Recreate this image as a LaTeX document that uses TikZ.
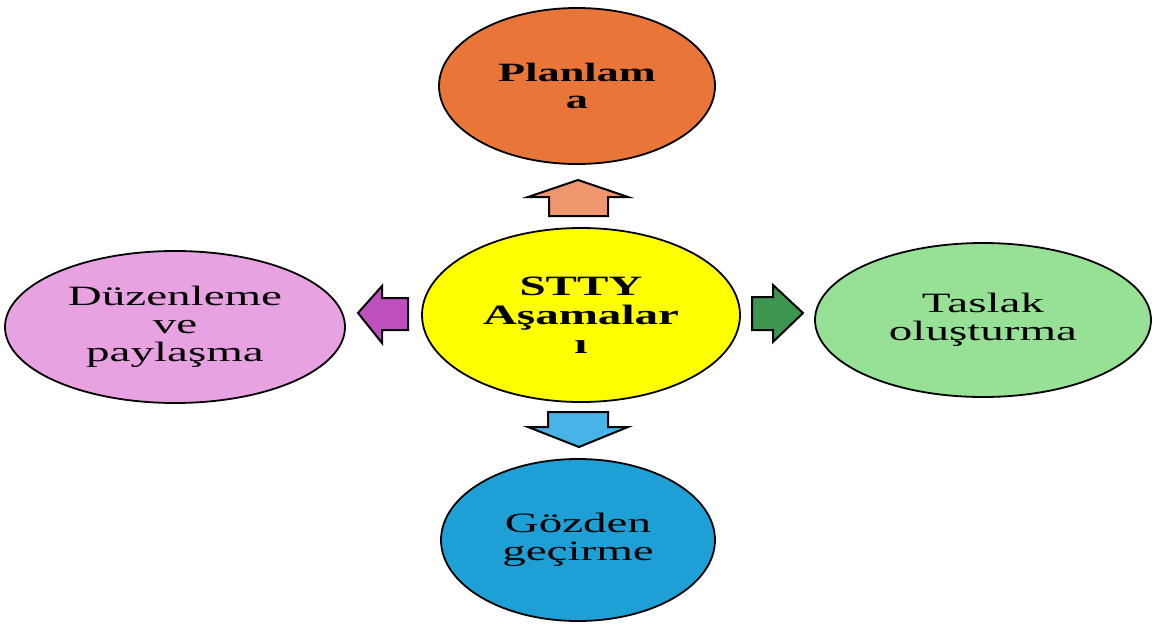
\documentclass[tikz,border=0pt]{standalone}
\usepackage{fontspec}
\setmainfont[FakeStretch=1.68]{Liberation Serif}
\usetikzlibrary{shapes.geometric}

\definecolor{planFill}{RGB}{233,118,56}
\definecolor{centerFill}{RGB}{255,255,0}
\definecolor{draftFill}{RGB}{150,225,150}
\definecolor{reviewFill}{RGB}{30,160,215}
\definecolor{editFill}{RGB}{232,162,226}
\definecolor{planArrow}{RGB}{240,150,110}
\definecolor{draftArrow}{RGB}{60,150,80}
\definecolor{reviewArrow}{RGB}{70,180,230}
\definecolor{editArrow}{RGB}{190,80,190}

\tikzset{
  stage/.style={draw=black,line width=0.9pt,ellipse,inner sep=0pt,align=center,
    font=\fontsize{14}{14}\selectfont},
  blockarrow/.style={draw=black,line width=1pt,line join=miter}
}

\begin{document}
\begin{tikzpicture}[x=0.5pt,y=-0.5pt]
\useasboundingbox (0,0) rectangle (1152,633);
% stages
\node[stage,fill=centerFill,minimum width=159pt,minimum height=87pt,
  font=\fontsize{14}{14.5}\selectfont\bfseries] (stty) at (581,315) {STTY\\Aşamalar\\ı};
\node[stage,fill=planFill,minimum width=138pt,minimum height=78pt,
  font=\fontsize{13.2}{13.5}\selectfont\bfseries] (plan) at (577,86) {Planlam\\a};
\node[stage,fill=draftFill,minimum width=168pt,minimum height=77pt] (draft) at (983,320) {Taslak\\oluşturma};
\node[stage,fill=reviewFill,minimum width=137pt,minimum height=81pt] (review) at (578,540) {Gözden\\geçirme};
\node[stage,fill=editFill,minimum width=170pt,minimum height=76pt] (edit) at (175,327) {Düzenleme\\ve\\paylaşma};
% arrows
\draw[blockarrow,fill=planArrow] (578,180) -- (628,197) -- (608,197) -- (608,216)
  -- (549,216) -- (549,197) -- (528,197) -- cycle;
\draw[blockarrow,fill=reviewArrow] (548,412) -- (608,412) -- (608,427) -- (628,427)
  -- (579,447) -- (528,427) -- (548,427) -- cycle;
\draw[blockarrow,fill=editArrow] (358,313) -- (382,286) -- (382,298) -- (408,298)
  -- (408,330) -- (382,330) -- (382,343) -- cycle;
\draw[blockarrow,fill=draftArrow] (752,297) -- (773,297) -- (773,285) -- (803,313)
  -- (773,342) -- (773,330) -- (752,330) -- cycle;
\end{tikzpicture}
\end{document}
